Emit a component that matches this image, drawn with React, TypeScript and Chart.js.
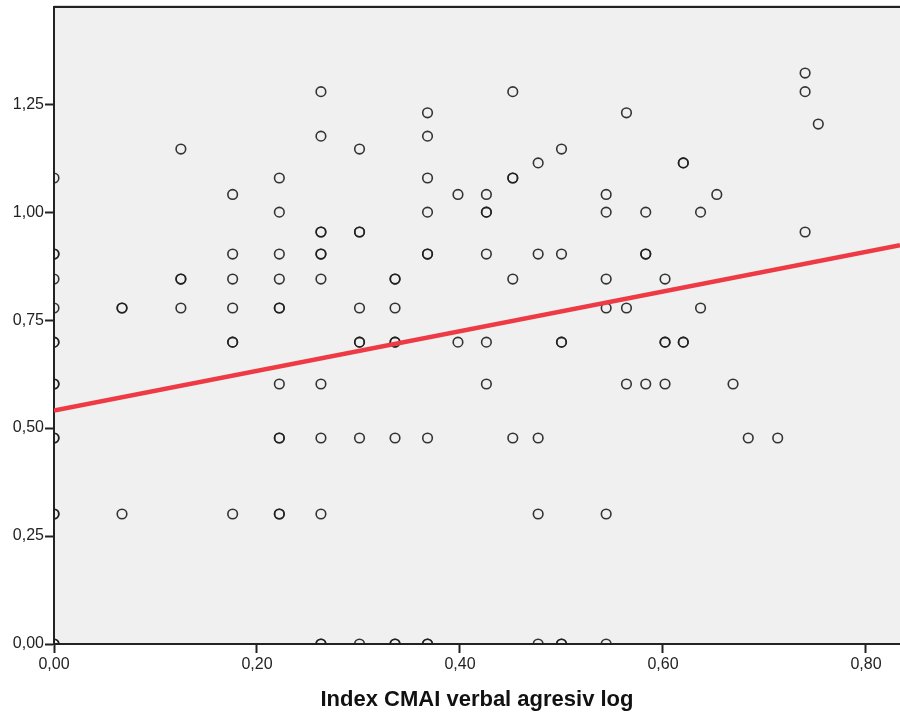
import React, { useEffect, useRef } from "react";
import { Chart, registerables } from "chart.js";

Chart.register(...registerables);

// ---- data ----
const xTitle = "Index CMAI verbal agresiv log";
const xTicks = [0, 0.2, 0.4, 0.6, 0.8];
const yTicks = [0, 0.25, 0.5, 0.75, 1.0, 1.25];
const xMin = 0;
const xMax = 0.8335;
const yMin = 0;
const yMax = 1.475;

// x position of each column of points
const columnX = [
  0, 0.067, 0.125, 0.176, 0.222, 0.263, 0.301, 0.336, 0.368, 0.398, 0.426, 0.452, 0.477,
  0.5, 0.544, 0.564, 0.583, 0.602, 0.62, 0.637, 0.653, 0.669, 0.684, 0.713, 0.74, 0.753,
];
// y values of the points in each column (repeated values = overlapping cases)
const columnY = [
  [1.079, 0.903, 0.903, 0.845, 0.778, 0.699, 0.699, 0.602, 0.602, 0.477, 0.477, 0.301, 0.301, 0, 0],
  [0.778, 0.778, 0.301],
  [1.146, 0.845, 0.845, 0.778],
  [1.041, 0.903, 0.845, 0.778, 0.699, 0.699, 0.301],
  [1.079, 1.0, 0.903, 0.845, 0.778, 0.778, 0.602, 0.477, 0.477, 0.301, 0.301],
  [1.279, 1.176, 0.954, 0.954, 0.903, 0.903, 0.845, 0.602, 0.477, 0.301, 0, 0],
  [1.146, 0.954, 0.954, 0.778, 0.699, 0.699, 0.477, 0],
  [0.845, 0.845, 0.778, 0.699, 0.699, 0.477, 0, 0],
  [1.23, 1.176, 1.079, 1.0, 0.903, 0.903, 0.477, 0, 0],
  [1.041, 0.699],
  [1.041, 1.0, 1.0, 0.903, 0.699, 0.602],
  [1.279, 1.079, 1.079, 0.845, 0.477],
  [1.114, 0.903, 0.477, 0.301, 0],
  [1.146, 0.903, 0.699, 0.699, 0, 0],
  [1.041, 1.0, 0.845, 0.778, 0.301, 0],
  [1.23, 0.778, 0.602],
  [1.0, 0.903, 0.903, 0.602],
  [0.845, 0.699, 0.699, 0.602],
  [1.114, 1.114, 0.699, 0.699],
  [1.0, 0.778],
  [1.041],
  [0.602],
  [0.477],
  [0.477],
  [1.322, 1.279, 0.954],
  [1.204],
];

// fitted regression line end points
const fitX = [0, 0.8335];
const fitY = [0.5405, 0.9235];

const FONT = "'Liberation Sans', Arial, Helvetica, sans-serif";
const fmt = (v: number) => Number(v).toFixed(2).replace(".", ",");

export default function App() {
  const ref = useRef<HTMLCanvasElement | null>(null);

  useEffect(() => {
    document.body.style.margin = "0";
    const canvas = ref.current;
    if (!canvas) return;

    const points: { x: number; y: number }[] = [];
    columnX.forEach((x, i) => columnY[i].forEach((y) => points.push({ x, y })));
    const fitPoints = fitX.map((x, i) => ({ x, y: fitY[i] }));

    const plotFrame = {
      id: "plotFrame",
      beforeDraw(chart: any) {
        const { ctx, chartArea: a } = chart;
        ctx.save();
        ctx.fillStyle = "#ffffff";
        ctx.fillRect(0, 0, chart.width, chart.height);
        ctx.fillStyle = "#f0f0f0";
        ctx.fillRect(a.left, a.top, a.right - a.left, a.bottom - a.top);
        ctx.restore();
      },
      afterDraw(chart: any) {
        const { ctx, chartArea: a } = chart;
        ctx.save();
        ctx.strokeStyle = "#d8d8d8";
        ctx.lineWidth = 1;
        ctx.beginPath();
        ctx.moveTo(a.left, a.top - 1.5);
        ctx.lineTo(a.right, a.top - 1.5);
        ctx.stroke();
        ctx.strokeStyle = "#222222";
        ctx.lineWidth = 2;
        ctx.beginPath();
        ctx.moveTo(a.left - 1, a.top);
        ctx.lineTo(a.right, a.top);
        ctx.stroke();
        ctx.restore();
      },
    };

    const chart = new Chart(canvas, {
      type: "scatter",
      data: {
        datasets: [
          {
            type: "line",
            data: fitPoints,
            borderColor: "#ee3a44",
            borderWidth: 4.5,
            pointRadius: 0,
            fill: false,
            clip: 0,
            order: 0,
          } as any,
          {
            data: points,
            pointStyle: "circle",
            pointRadius: 4.8,
            pointBorderWidth: 1.6,
            borderColor: "rgba(30,30,30,0.9)",
            backgroundColor: "rgba(0,0,0,0)",
            pointBackgroundColor: "rgba(0,0,0,0)",
            pointBorderColor: "rgba(30,30,30,0.9)",
            clip: 0,
            order: 1,
          } as any,
        ],
      },
      options: {
        responsive: false,
        animation: false,
        devicePixelRatio: 1,
        events: [],
        layout: { autoPadding: false, padding: { top: 7, right: 0, left: 0, bottom: 0 } },
        plugins: {
          legend: { display: false },
          tooltip: { enabled: false },
          title: { display: false },
        },
        scales: {
          x: {
            type: "linear",
            min: xMin,
            max: xMax,
            afterBuildTicks: (s: any) => {
              s.ticks = xTicks.map((v) => ({ value: v }));
            },
            afterFit: (s: any) => {
              s.height = 69;
              s.paddingLeft = 0;
              s.paddingRight = 0;
            },
            grid: {
              drawOnChartArea: false,
              drawTicks: true,
              tickLength: 9,
              tickWidth: 2,
              tickColor: "#222222",
            },
            border: { display: true, color: "#222222", width: 2 },
            ticks: {
              callback: (v: any) => fmt(v),
              font: { family: FONT, size: 16 },
              color: "#222222",
              padding: 2,
              maxRotation: 0,
              autoSkip: false,
            },
            title: {
              display: true,
              text: xTitle,
              font: { family: FONT, size: 22, weight: "bold" },
              color: "#111111",
              padding: 0,
            },
          },
          y: {
            type: "linear",
            min: yMin,
            max: yMax,
            afterBuildTicks: (s: any) => {
              s.ticks = yTicks.map((v) => ({ value: v }));
            },
            afterFit: (s: any) => {
              s.width = 54;
              s.paddingTop = 0;
              s.paddingBottom = 0;
            },
            grid: {
              drawOnChartArea: false,
              drawTicks: true,
              tickLength: 9,
              tickWidth: 2,
              tickColor: "#222222",
            },
            border: { display: true, color: "#222222", width: 2 },
            ticks: {
              callback: (v: any) => fmt(v),
              font: { family: FONT, size: 16 },
              color: "#222222",
              padding: 1,
              autoSkip: false,
            },
          },
        },
      } as any,
      plugins: [plotFrame],
    });

    return () => chart.destroy();
  }, []);

  return (
    <div style={{ width: 900, height: 713 }}>
      <canvas ref={ref} width={900} height={713} style={{ display: "block" }} />
    </div>
  );
}
